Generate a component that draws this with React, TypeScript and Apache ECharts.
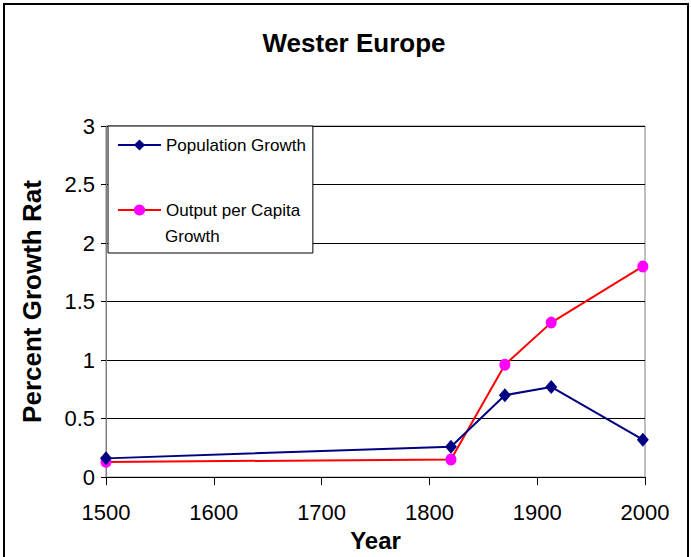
import React, { useEffect, useRef } from "react";
import * as echarts from "echarts";

const titleText = "Wester Europe";
const years = [1500, 1820, 1870, 1913, 1998];
const populationGrowth = [0.16, 0.26, 0.7, 0.77, 0.32];
const outputPerCapitaGrowth = [0.13, 0.15, 0.96, 1.32, 1.8];
const seriesNames = ["Population Growth", "Output per Capita"];
const legendSecondLine = "Growth";
const xAxisName = "Year";
const yAxisName = "Percent Growth Rat";

const FONT = "'Liberation Sans', Arial, sans-serif";

export default function App() {
  const ref = useRef<HTMLDivElement>(null);
  useEffect(() => {
    document.body.style.margin = "0";
    if (!ref.current) return;
    const chart = echarts.init(ref.current, undefined, { renderer: "svg" });
    const popData = years.map((y, i) => [y, populationGrowth[i]]);
    const outData = years.map((y, i) => [y, outputPerCapitaGrowth[i]]);
    chart.setOption({
      animation: false,
      backgroundColor: "#fff",
      title: {
        text: titleText,
        left: 349,
        textAlign: "center",
        top: 25,
        textStyle: { fontFamily: FONT, fontSize: 26, fontWeight: "bold", color: "#000" },
      },
      grid: {
        left: 106,
        top: 126,
        width: 539,
        height: 352,
        show: true,
        borderColor: "#808080",
        borderWidth: 1,
        backgroundColor: "transparent",
      },
      legend: {
        left: 108,
        top: 126,
        orient: "vertical",
        data: seriesNames,
        itemWidth: 43,
        itemHeight: 14,
        itemGap: 45,
        padding: [9, 7, 33, 9],
        backgroundColor: "#fff",
        borderColor: "#000",
        borderWidth: 1,
        textStyle: { fontFamily: FONT, fontSize: 17, color: "#000", lineHeight: 20 },
      },
      xAxis: {
        type: "value",
        min: 1500,
        max: 2000,
        interval: 100,
        name: xAxisName,
        nameLocation: "middle",
        nameGap: 47,
        nameTextStyle: { fontFamily: FONT, fontSize: 24, fontWeight: "bold", color: "#000" },
        axisLine: { show: true, lineStyle: { color: "#000", width: 1 } },
        axisTick: { show: true, length: 8, lineStyle: { color: "#000" } },
        axisLabel: {
          fontFamily: FONT,
          fontSize: 22,
          color: "#000",
          margin: 24,
          formatter: (v: number) => String(v),
        },
        splitLine: { show: false },
      },
      yAxis: {
        type: "value",
        min: 0,
        max: 3,
        interval: 0.5,
        name: yAxisName,
        nameLocation: "middle",
        nameRotate: 90,
        nameGap: 61,
        nameTextStyle: { fontFamily: FONT, fontSize: 26, fontWeight: "bold", color: "#000" },
        axisLine: { show: true, lineStyle: { color: "#808080", width: 1 } },
        axisTick: { show: true, length: 5, lineStyle: { color: "#000" } },
        axisLabel: { fontFamily: FONT, fontSize: 22, color: "#000", margin: 11 },
        splitLine: { show: true, lineStyle: { color: "#000", width: 1 } },
      },
      graphic: [
        {
          type: "rect",
          shape: { x: 4, y: 4, width: 684, height: 600 },
          style: { fill: "none", stroke: "#000", lineWidth: 2 },
          z: 100,
        },
        {
          type: "text",
          left: 165,
          top: 228,
          style: { text: legendSecondLine, fontFamily: FONT, fontSize: 17, fill: "#000" },
          z: 100,
        },
      ],
      series: [
        {
          name: seriesNames[0],
          type: "line",
          data: popData,
          symbol: "diamond",
          symbolSize: [12, 14],
          lineStyle: { color: "#000080", width: 2 },
          itemStyle: { color: "#000080" },
          z: 3,
        },
        {
          name: seriesNames[1],
          type: "line",
          data: outData,
          symbol: "circle",
          symbolSize: [11, 12],
          lineStyle: { color: "#FF0000", width: 2 },
          itemStyle: { color: "#FF00FF" },
          z: 2,
        },
      ],
    });
    return () => chart.dispose();
  }, []);
  return <div ref={ref} style={{ width: 691, height: 557 }} />;
}
